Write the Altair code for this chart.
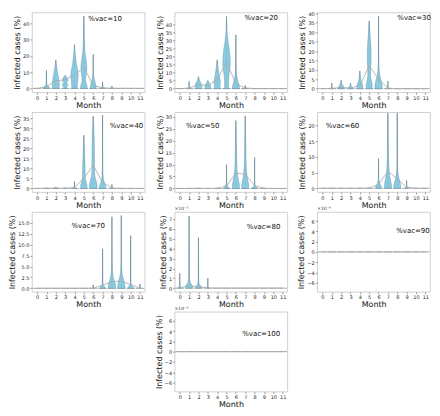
import altair as alt
import pandas as pd

MONTHS = list(range(12))
VAC_LABELS = ["%vac=10", "%vac=20", "%vac=30", "%vac=40", "%vac=50",
              "%vac=60", "%vac=70", "%vac=80", "%vac=90", "%vac=100"]

# ---- mean line per month ----
MEAN_10 = [0.0, 1.0, 4.7, 5.3, 8.3, 12.9, 1.8, 0.3, 0.1, 0, 0, 0]
MEAN_20 = [0.0, 0.3, 2.5, 2.0, 5.5, 16.5, 3.0, 0.4, 0, 0, 0, 0]
MEAN_30 = [0.0, 0.2, 0.6, 0.5, 1.5, 12.4, 5.0, 0.3, 0, 0, 0, 0]
MEAN_40 = [0.0, 0.1, 0.2, 0.1, 0.5, 5.0, 11.5, 3.0, 0.2, 0, 0, 0]
MEAN_50 = [0.0, 0, 0.1, 0, 0.1, 1.0, 6.5, 6.0, 1.2, 0.1, 0, 0]
MEAN_60 = [0.0, 0, 0, 0, 0, 0.1, 1.2, 5.5, 3.0, 0.3, 0, 0]
MEAN_70 = [0.0, 0, 0, 0, 0, 0, 0.05, 0.7, 1.5, 1.7, 0.8, 0.1]
MEAN_80 = [0.05, 0.25, 0.12, 0.02, 0, 0, 0, 0, 0, 0, 0, 0]
MEAN_90 = [0.0] * 12
MEAN_100 = [0.0] * 12

# ---- maximum per month (extrema spikes) ----
MAX_10 = [0.2, 11, 17.5, 8, 27, 44.5, 21, 4, 1.5, 0.3, 0.2, 0.2]
MAX_20 = [0.3, 4.5, 7.5, 5, 18, 45, 33.5, 2, 0.3, 0.2, 0.2, 0.2]
MAX_30 = [0.2, 3, 4.5, 3, 9.5, 36, 38.5, 4, 0.3, 0.2, 0.2, 0.2]
MAX_40 = [0.3, 0.4, 0.8, 0.4, 3.5, 26.5, 36, 36.5, 2, 0.3, 0.2, 0.2]
MAX_50 = [0.2, 0.3, 0.4, 0.3, 0.4, 10, 28.5, 30.5, 13, 0.4, 0.2, 0.2]
MAX_60 = [0.2, 0.2, 0.2, 0.2, 0.2, 0.4, 9.5, 24, 24, 2.5, 0.2, 0.2]
MAX_70 = [0.1, 0.1, 0.1, 0.1, 0.1, 0.1, 0.8, 9, 16.3, 16.6, 12, 1]
MAX_80 = [1.5, 7.3, 5.1, 1.0, 0, 0, 0, 0, 0, 0, 0, 0]
MAX_90 = [0.0] * 12
MAX_100 = [0.0] * 12
MIN_ALL = [0.0] * 12

# ---- violin profiles: month -> (values, half widths in month units) ----
VIOLIN_10 = {
    1: ([0, 0.8, 1.8, 4, 11], [0.3, 0.28, 0.08, 0.02, 0]),
    2: ([0, 2, 4, 7, 10, 13, 17.5], [0.32, 0.38, 0.36, 0.28, 0.18, 0.1, 0]),
    3: ([0, 1.5, 2.5, 3.5, 4.5, 5.5, 7, 8], [0.08, 0.25, 0.3, 0.15, 0.28, 0.3, 0.15, 0]),
    4: ([0, 2, 5, 8, 11, 15, 20, 27], [0.28, 0.3, 0.35, 0.4, 0.35, 0.2, 0.1, 0]),
    5: ([0, 2, 4, 6, 10, 13, 17, 22, 30, 44.5], [0.33, 0.33, 0.2, 0.18, 0.28, 0.32, 0.25, 0.12, 0.05, 0]),
    6: ([0, 2, 4, 6, 8, 12, 21], [0.3, 0.28, 0.2, 0.1, 0.04, 0.01, 0]),
    7: ([0, 0.5, 1.2, 4], [0.2, 0.12, 0.03, 0]),
    8: ([0, 0.5, 1.5], [0.1, 0.02, 0]),
}
VIOLIN_20 = {
    1: ([0, 0.6, 1.5, 4.5], [0.15, 0.1, 0.03, 0]),
    2: ([0, 1.5, 3, 5, 7.5], [0.3, 0.38, 0.3, 0.12, 0]),
    3: ([0, 1, 2, 3.5, 5], [0.25, 0.32, 0.3, 0.15, 0]),
    4: ([0, 2, 4, 6, 9, 13, 18], [0.3, 0.3, 0.35, 0.3, 0.2, 0.1, 0]),
    5: ([0, 3, 6, 10, 15, 20, 25, 30, 36, 45], [0.22, 0.2, 0.22, 0.3, 0.4, 0.38, 0.28, 0.15, 0.05, 0]),
    6: ([0, 2, 4, 7, 10, 15, 33.5], [0.38, 0.35, 0.25, 0.12, 0.04, 0.01, 0]),
    7: ([0, 0.5, 2], [0.2, 0.05, 0]),
}
VIOLIN_30 = {
    1: ([0, 0.4, 1, 3], [0.15, 0.08, 0.02, 0]),
    2: ([0, 1, 2, 3, 4.5], [0.25, 0.28, 0.15, 0.06, 0]),
    3: ([0, 0.7, 1.5, 3], [0.22, 0.2, 0.08, 0]),
    4: ([0, 1.5, 3, 5, 7, 9.5], [0.3, 0.32, 0.22, 0.1, 0.04, 0]),
    5: ([0, 2, 4, 6, 10, 15, 20, 25, 30, 36], [0.3, 0.33, 0.25, 0.15, 0.15, 0.2, 0.2, 0.15, 0.08, 0]),
    6: ([0, 2, 4, 6, 9, 13, 20, 38.5], [0.4, 0.38, 0.3, 0.18, 0.08, 0.03, 0.01, 0]),
    7: ([0, 0.5, 1.2, 4], [0.2, 0.1, 0.02, 0]),
}
VIOLIN_40 = {
    1: ([0, 0.4], [0.1, 0]),
    2: ([0, 0.4, 0.8], [0.18, 0.08, 0]),
    3: ([0, 0.4], [0.12, 0]),
    4: ([0, 0.4, 1, 3.5], [0.2, 0.1, 0.02, 0]),
    5: ([0, 1.5, 3, 5, 8, 12, 18, 26.5], [0.3, 0.35, 0.25, 0.15, 0.14, 0.12, 0.07, 0]),
    6: ([0, 2, 4, 6, 9, 14, 20, 26, 32, 36], [0.4, 0.4, 0.3, 0.18, 0.14, 0.14, 0.12, 0.1, 0.05, 0]),
    7: ([0, 1.5, 3, 5, 8, 12, 36.5], [0.35, 0.32, 0.2, 0.08, 0.03, 0.01, 0]),
    8: ([0, 0.4, 2], [0.15, 0.04, 0]),
}
VIOLIN_50 = {
    5: ([0, 0.5, 1, 2, 4, 10], [0.25, 0.22, 0.12, 0.04, 0.01, 0]),
    6: ([0, 1.5, 3, 5, 8, 12, 18, 24, 28.5], [0.35, 0.38, 0.3, 0.2, 0.12, 0.08, 0.05, 0.03, 0]),
    7: ([0, 1.5, 3, 5, 8, 12, 18, 25, 30.5], [0.35, 0.38, 0.3, 0.2, 0.12, 0.08, 0.05, 0.03, 0]),
    8: ([0, 0.5, 1, 2, 13], [0.3, 0.22, 0.08, 0.02, 0]),
}
VIOLIN_60 = {
    6: ([0, 0.7, 1.5, 3, 9.5], [0.3, 0.28, 0.12, 0.02, 0]),
    7: ([0, 1.5, 3, 5, 8, 12, 18, 24], [0.4, 0.35, 0.25, 0.15, 0.08, 0.05, 0.03, 0]),
    8: ([0, 1.5, 3, 4.5, 6, 10, 24], [0.38, 0.33, 0.2, 0.1, 0.04, 0.01, 0]),
    9: ([0, 0.3, 0.8, 2.5], [0.15, 0.08, 0.02, 0]),
}
VIOLIN_70 = {
    6: ([0, 0.2, 0.8], [0.08, 0.02, 0]),
    7: ([0, 0.3, 0.6, 1.2, 9], [0.3, 0.25, 0.12, 0.03, 0]),
    8: ([0, 0.8, 1.6, 2.4, 3.5, 6, 16.3], [0.38, 0.38, 0.28, 0.15, 0.07, 0.02, 0]),
    9: ([0, 0.8, 1.6, 2.4, 3.5, 6, 16.6], [0.4, 0.38, 0.3, 0.18, 0.08, 0.02, 0]),
    10: ([0, 0.3, 0.7, 1.2, 12], [0.3, 0.25, 0.1, 0.02, 0]),
    11: ([0, 0.2, 1], [0.1, 0.03, 0]),
}
VIOLIN_80 = {
    0: ([0, 0.1, 0.3, 1.5], [0.2, 0.12, 0.03, 0]),
    1: ([0, 0.15, 0.35, 0.6, 1, 7.3], [0.35, 0.38, 0.28, 0.12, 0.03, 0]),
    2: ([0, 0.15, 0.3, 0.5, 0.8, 5.1], [0.3, 0.3, 0.18, 0.06, 0.02, 0]),
    3: ([0, 0.1, 0.3, 1], [0.12, 0.06, 0.01, 0]),
}
VIOLIN_90 = {}
VIOLIN_100 = {}

# ---- axes per panel ----
Y_DOMAINS = [[-2.4, 46.8], [-2.3, 47.5], [-1.9, 40.5], [-1.8, 38], [-1.5, 32],
             [-1.2, 24.3], [-0.8, 17.4], [-0.37, 7.7], [-7.8, 7.8], [-7.8, 7.8]]
Y_TICKS = [[0, 10, 20, 30, 40],
           [0, 5, 10, 15, 20, 25, 30, 35, 40],
           [0, 5, 10, 15, 20, 25, 30, 35, 40],
           [0, 5, 10, 15, 20, 25, 30, 35],
           [0, 5, 10, 15, 20, 25, 30],
           [0, 5, 10, 15, 20],
           [0, 2.5, 5, 7.5, 10, 12.5, 15],
           [0, 1, 2, 3, 4, 5, 6, 7],
           [-6, -4, -2, 0, 2, 4, 6],
           [-6, -4, -2, 0, 2, 4, 6]]
Y_FORMATS = ["d", "d", "d", "d", "d", "d", ".1f", "d", "d", "d"]
OFFSET_TEXT = ["", "", "", "", "", "", "", "×10⁻³", "×10⁻⁸", "×10⁻⁸"]
LABEL_POS = [(0.50, 0.085), (0.62, 0.07), (0.71, 0.07), (0.69, 0.17), (0.10, 0.17),
             (0.075, 0.17), (0.35, 0.17), (0.64, 0.19), (0.70, 0.235), (0.60, 0.28)]

MEANS = [MEAN_10, MEAN_20, MEAN_30, MEAN_40, MEAN_50, MEAN_60, MEAN_70, MEAN_80, MEAN_90, MEAN_100]
MAXES = [MAX_10, MAX_20, MAX_30, MAX_40, MAX_50, MAX_60, MAX_70, MAX_80, MAX_90, MAX_100]
VIOLINS = [VIOLIN_10, VIOLIN_20, VIOLIN_30, VIOLIN_40, VIOLIN_50, VIOLIN_60, VIOLIN_70,
           VIOLIN_80, VIOLIN_90, VIOLIN_100]

W, H = 113, 80
FONT = "DejaVu Sans"
FILL = "#80c6df"
EDGE = "#5d8aa0"
GRAY = "#8c8c8c"


def panel(i):
    xs = alt.Scale(domain=[-0.55, 11.5], nice=False, zero=False)
    xa = alt.Axis(values=MONTHS, format="d", title="Month")
    ys = alt.Scale(domain=Y_DOMAINS[i], nice=False, zero=False)
    ya = alt.Axis(values=Y_TICKS[i], format=Y_FORMATS[i], title="Infected cases (%)")

    base_df = pd.DataFrame({"month": MONTHS, "mn": MIN_ALL, "mx": MAXES[i], "mean": MEANS[i]})

    baseline = alt.Chart(base_df).mark_rule(color=GRAY, strokeWidth=0.8, clip=True).transform_calculate(
        lo="datum.month - 0.45", hi="datum.month + 0.45"
    ).encode(
        x=alt.X("lo:Q", scale=xs, axis=xa), x2="hi:Q",
        y=alt.Y("mn:Q", scale=ys, axis=ya),
    )

    spikes = alt.Chart(base_df).transform_filter("datum.mx > 0").mark_rule(
        color=GRAY, strokeWidth=0.8, clip=True
    ).encode(
        x=alt.X("month:Q", scale=xs, axis=xa),
        y=alt.Y("mn:Q", scale=ys, axis=ya), y2="mx:Q",
    )

    layers = [baseline, spikes]

    rows = []
    for m, (vals, wids) in VIOLINS[i].items():
        for v, w in zip(vals, wids):
            rows.append({"month": m, "v": v, "w": w})
    if rows:
        vdf = pd.DataFrame(rows)
        body = alt.Chart(vdf).mark_area(
            orient="horizontal", fill=FILL, fillOpacity=0.9, stroke=EDGE, strokeWidth=0.4, clip=True
        ).transform_calculate(
            lo="datum.month - datum.w", hi="datum.month + datum.w"
        ).encode(
            y=alt.Y("v:Q", scale=ys, axis=ya),
            x=alt.X("lo:Q", scale=xs, axis=xa, stack=None), x2="hi:Q",
            detail="month:N",
        )
        layers.append(body)

    mean_line = alt.Chart(base_df).mark_line(color="#a8a8a8", strokeWidth=0.8, clip=True).encode(
        x=alt.X("month:Q", scale=xs, axis=xa),
        y=alt.Y("mean:Q", scale=ys, axis=ya),
    )
    layers.append(mean_line)

    fx, fy = LABEL_POS[i]
    lab = alt.Chart(pd.DataFrame({"t": [VAC_LABELS[i]]})).mark_text(
        align="left", baseline="middle", fontSize=7, font=FONT, color="#111"
    ).encode(x=alt.value(fx * W), y=alt.value(fy * H), text="t:N")
    layers.append(lab)

    if OFFSET_TEXT[i]:
        off = alt.Chart(pd.DataFrame({"t": [OFFSET_TEXT[i]]})).mark_text(
            align="left", baseline="bottom", fontSize=4.5, font=FONT, color="#333"
        ).encode(x=alt.value(0), y=alt.value(-1), text="t:N")
        layers.append(off)

    return alt.layer(*layers).properties(width=W, height=H)


panels = [panel(i) for i in range(10)]
blank = alt.Chart(pd.DataFrame({"a": [0]})).mark_point(opacity=0).encode(
    x=alt.value(0), y=alt.value(0)
).properties(width=W, height=H, view=alt.ViewBackground(stroke="transparent"))

chart = alt.concat(
    *panels[:9], blank, panels[9], columns=3, spacing={"row": 20, "column": 30},
    bounds="flush", align="all"
).properties(
    padding={"left": 0, "top": 2, "right": 0, "bottom": 0}
).configure_view(
    stroke="#c4c4c4", strokeWidth=0.8
).configure_axis(
    labelFontSize=5, titleFontSize=8, labelFont=FONT, titleFont=FONT,
    titleFontWeight="normal", grid=False, domain=False, tickSize=2, tickWidth=0.5,
    tickColor="#444", labelColor="#222", titleColor="#111", labelPadding=1,
    titlePadding=1, labelFlush=False, labelOverlap=False
).configure_axisX(titlePadding=1)

chart.save("out.html", embed_options={"renderer": "svg", "actions": False})
